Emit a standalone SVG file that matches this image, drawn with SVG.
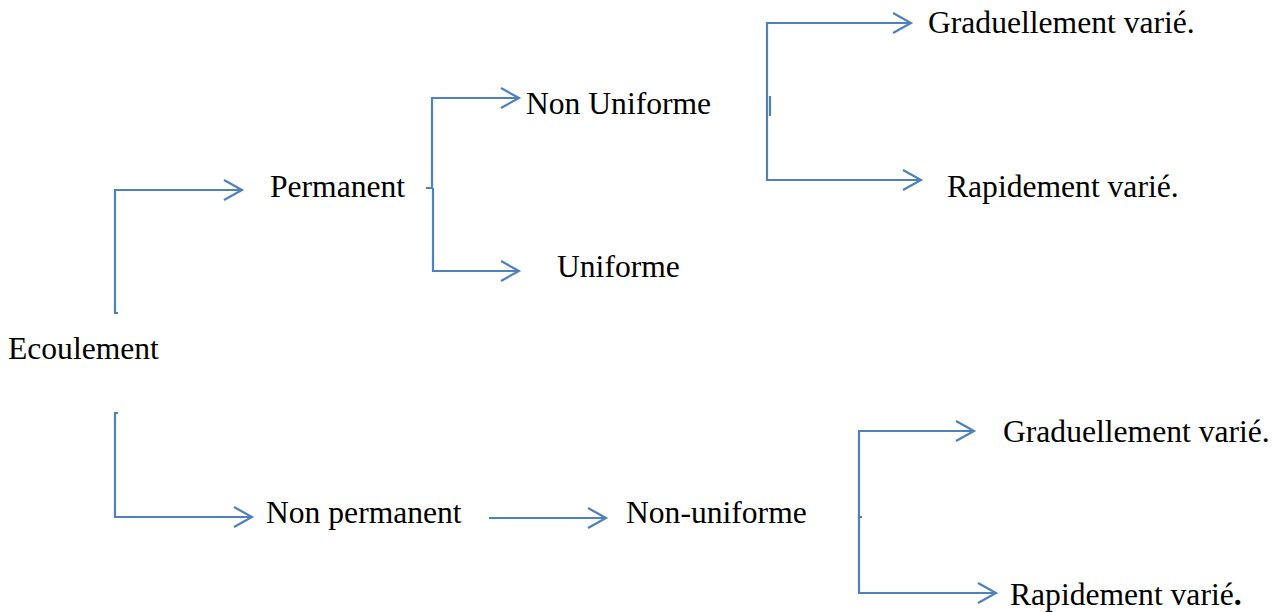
<svg xmlns="http://www.w3.org/2000/svg" width="1282" height="612" viewBox="0 0 1282 612">
<defs>
<style>
.t{font-family:"Liberation Serif","Times New Roman",serif;font-size:31.6px;fill:#000}
.c{fill:none;stroke:#4F81BD;stroke-width:2.2}
</style>
<marker id="ah" markerUnits="userSpaceOnUse" markerWidth="24" markerHeight="26" refX="19" refY="11" orient="auto" overflow="visible">
<path d="M1,1 L19,11 L1,21" fill="none" stroke="#4F81BD" stroke-width="2.2"/>
</marker>
</defs>
<rect width="1282" height="612" fill="#fff"/>
<g id="connectors">
<path class="c" d="M118,313 H115 V190 H242" marker-end="url(#ah)"/>
<path class="c" d="M118,413 H115 V517 H252" marker-end="url(#ah)"/>
<path class="c" d="M426,188 H432 V98 H519" marker-end="url(#ah)"/>
<path class="c" d="M433,188 V271 H519" marker-end="url(#ah)"/>
<path class="c" d="M770,116 V96 M767,105 V23 H911" marker-end="url(#ah)"/>
<path class="c" d="M767,105 V180 H921" marker-end="url(#ah)"/>
<path class="c" d="M489,518 H606" marker-end="url(#ah)"/>
<path class="c" d="M862,517 H859 V431 H974" marker-end="url(#ah)"/>
<path class="c" d="M859,517 V593 H996" marker-end="url(#ah)"/>
</g>
<g id="n-ecoulement"><text class="t" x="8" y="359">Ecoulement</text></g>
<g id="n-permanent"><text class="t" x="270" y="197">Permanent</text></g>
<g id="n-non-uniforme-1"><text class="t" x="526" y="114">Non Uniforme</text></g>
<g id="n-uniforme"><text class="t" x="557" y="277">Uniforme</text></g>
<g id="n-grad-1"><text class="t" x="928" y="33">Graduellement varié.</text></g>
<g id="n-rapid-1"><text class="t" x="947" y="197">Rapidement varié.</text></g>
<g id="n-non-permanent"><text class="t" x="266" y="523">Non permanent</text></g>
<g id="n-non-uniforme-2"><text class="t" x="626" y="523">Non-uniforme</text></g>
<g id="n-grad-2"><text class="t" x="1003" y="442">Graduellement varié.</text></g>
<g id="n-rapid-2"><text class="t" x="1010" y="605">Rapidement varié<tspan font-weight="bold">.</tspan></text></g>
</svg>
